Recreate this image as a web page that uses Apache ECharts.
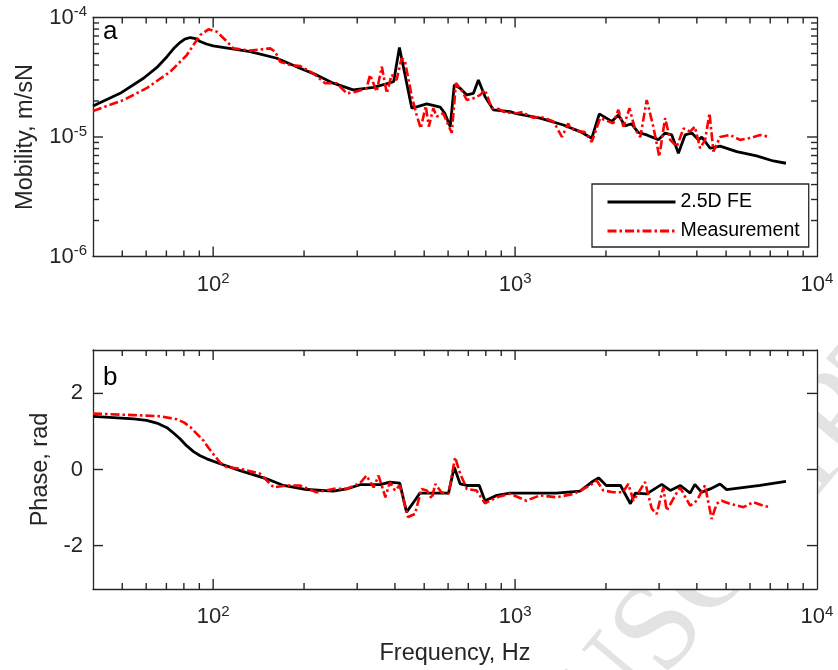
<!DOCTYPE html>
<html>
<head>
<meta charset="utf-8">
<script src="https://cdn.jsdelivr.net/npm/echarts@6/dist/echarts.min.js"></script>
<style>
  html, body { margin: 0; padding: 0; background: #fff; }
  #chart { width: 838px; height: 670px; }
</style>
</head>
<body>
<div id="chart"></div>
<script>
// ---- Mobility, 2.5D FE model ----
const feMobFreq = [40, 49.2, 58.8, 65, 70.3, 74, 77.8, 80.5, 84, 87.5, 90.6, 95, 100, 132.6, 162.5, 194, 220, 250, 291, 340, 396, 414, 455, 472, 510, 565, 585, 610, 629, 658, 692, 728, 756, 795, 847, 962, 1000, 1210, 1446, 1642, 1795, 1901, 2090, 2198, 2312, 2433, 2560, 2729, 2983, 3140, 3304, 3475, 3657, 3849, 4049, 4153, 4426, 4775, 5420, 6310, 7165, 7890];
const feMob = [1.82e-5, 2.32e-5, 3.1e-5, 3.8e-5, 4.7e-5, 5.5e-5, 6.2e-5, 6.6e-5, 6.8e-5, 6.65e-5, 6.3e-5, 6.0e-5, 5.78e-5, 5.18e-5, 4.56e-5, 3.76e-5, 3.31e-5, 2.82e-5, 2.48e-5, 2.6e-5, 2.9e-5, 5.6e-5, 1.74e-5, 1.79e-5, 1.89e-5, 1.78e-5, 1.58e-5, 1.22e-5, 2.73e-5, 2.56e-5, 2.25e-5, 2.32e-5, 3.0e-5, 2.18e-5, 1.69e-5, 1.63e-5, 1.58e-5, 1.44e-5, 1.26e-5, 1.11e-5, 9.77e-6, 1.56e-5, 1.35e-5, 1.53e-5, 1.24e-5, 1.29e-5, 1.09e-5, 1.04e-5, 9.5e-6, 1.08e-5, 1.04e-5, 7.3e-6, 1.04e-5, 1.08e-5, 9.46e-6, 1.0e-5, 8.05e-6, 8.4e-6, 7.55e-6, 6.95e-6, 6.3e-6, 6.03e-6];

// ---- Mobility, measurement ----
const measMobFreq = [40, 50.5, 60.2, 72.1, 81.8, 86.5, 90.6, 96.5, 102.9, 107, 111, 116.7, 132.6, 154.5, 160.5, 166.6, 179.8, 194, 214.5, 234.8, 256.6, 277, 299, 322, 331, 348, 362, 376, 390, 405, 421, 431, 455, 472, 487, 506, 518, 536, 550, 578, 617, 637, 664, 692, 728, 767, 795, 837, 880, 915, 950, 1013, 1060, 1110, 1150, 1210, 1270, 1340, 1430, 1500, 1520, 1567, 1620, 1700, 1795, 1915, 2115, 2198, 2285, 2393, 2500, 2600, 2729, 2870, 3004, 3140, 3265, 3434, 3612, 3800, 3940, 4100, 4260, 4405, 4540, 4775, 5150, 5560, 6000, 6480, 6990];
const measMob = [1.65e-5, 2.04e-5, 2.56e-5, 3.52e-5, 4.85e-5, 6.0e-5, 7.14e-5, 7.96e-5, 7.6e-5, 6.9e-5, 6.3e-5, 5.52e-5, 5.28e-5, 5.52e-5, 5.18e-5, 4.27e-5, 4.0e-5, 3.93e-5, 3.41e-5, 2.82e-5, 2.82e-5, 2.32e-5, 2.4e-5, 2.56e-5, 3.31e-5, 2.4e-5, 3.88e-5, 2.32e-5, 3.31e-5, 3.0e-5, 4.56e-5, 4.4e-5, 2.18e-5, 1.53e-5, 1.18e-5, 1.82e-5, 1.22e-5, 1.74e-5, 1.48e-5, 1.58e-5, 1.08e-5, 2.82e-5, 2.48e-5, 2.04e-5, 2.11e-5, 2.25e-5, 2.48e-5, 1.74e-5, 1.72e-5, 1.63e-5, 1.6e-5, 1.58e-5, 1.62e-5, 1.5e-5, 1.45e-5, 1.48e-5, 1.42e-5, 1.35e-5, 1.0e-5, 1.3e-5, 1.2e-5, 1.15e-5, 1.12e-5, 1.1e-5, 9.1e-6, 1.44e-5, 1.3e-5, 1.69e-5, 1.22e-5, 1.74e-5, 1.15e-5, 1.0e-5, 2.04e-5, 1.22e-5, 6.85e-6, 1.44e-5, 9.46e-6, 8.3e-6, 1.18e-5, 1.11e-5, 1.22e-5, 8.05e-6, 9.46e-6, 1.58e-5, 7.55e-6, 1.0e-5, 1.04e-5, 9.46e-6, 9.8e-6, 1.04e-5, 1.0e-5];

// ---- Phase, 2.5D FE model ----
const fePhaseFreq = [40, 54.5, 60.2, 65.1, 70.3, 73.9, 77.8, 81.8, 86.1, 90.6, 95.3, 105.5, 122.9, 150.4, 170.9, 204, 250, 277, 306.6, 357, 385, 415, 437, 470, 484, 535, 602, 629, 658, 692, 761, 795, 870, 962, 1150, 1372, 1642, 1795, 1890, 2005, 2235, 2410, 2500, 2729, 3060, 3265, 3530, 3800, 3940, 4150, 4430, 4775, 5020, 6480, 7890];
const fePhase = [1.395, 1.33, 1.29, 1.22, 1.10, 0.96, 0.80, 0.62, 0.47, 0.36, 0.28, 0.15, -0.03, -0.245, -0.42, -0.526, -0.57, -0.51, -0.40, -0.40, -0.33, -0.36, -1.12, -0.77, -0.62, -0.62, -0.62, 0.06, -0.38, -0.42, -0.42, -0.82, -0.68, -0.62, -0.62, -0.62, -0.57, -0.33, -0.22, -0.42, -0.42, -0.90, -0.62, -0.64, -0.39, -0.55, -0.42, -0.62, -0.39, -0.60, -0.51, -0.38, -0.53, -0.42, -0.31];

// ---- Phase, measurement ----
const measPhaseFreq = [40, 54.5, 66.7, 75.8, 80, 83.9, 88, 92.9, 96.5, 100, 105.5, 111, 122.9, 143, 158.6, 175.5, 194, 220, 250, 277, 306.6, 322, 340, 353, 372, 385, 400, 415, 442, 466, 490, 510, 530, 544, 570, 602, 633, 658, 692, 745, 795, 870, 962, 1090, 1210, 1372, 1567, 1770, 1864, 1958, 2116, 2275, 2371, 2466, 2695, 2836, 2944, 3097, 3177, 3342, 3516, 3800, 3997, 4256, 4479, 4652, 4834, 5150, 5703, 6155, 6640, 6990];
const measPhase = [1.47, 1.43, 1.40, 1.32, 1.24, 1.12, 0.95, 0.76, 0.57, 0.41, 0.18, 0.06, 0.02, -0.11, -0.47, -0.42, -0.42, -0.60, -0.51, -0.51, -0.36, -0.16, -0.47, -0.16, -0.73, -0.33, -0.55, -0.42, -1.25, -1.17, -0.51, -0.55, -0.77, -0.38, -0.60, -0.64, 0.32, -0.11, -0.51, -0.55, -0.89, -0.73, -0.64, -0.82, -0.68, -0.73, -0.64, -0.42, -0.29, -0.55, -0.60, -0.60, -0.38, -0.82, -0.33, -1.03, -1.17, -0.47, -1.08, -0.77, -0.47, -0.95, -0.82, -0.42, -1.30, -0.90, -0.82, -0.90, -0.99, -0.86, -0.95, -0.99];

// ---- Axis tick positions ----
const freqMajor = [100, 1000, 10000];
const freqMinor = [50, 60, 70, 80, 90, 200, 300, 400, 500, 600, 700, 800, 900, 2000, 3000, 4000, 5000, 6000, 7000, 8000, 9000];
const mobMajor = [1e-6, 1e-5, 1e-4];
const mobMinor = [2e-6, 3e-6, 4e-6, 5e-6, 6e-6, 7e-6, 8e-6, 9e-6, 2e-5, 3e-5, 4e-5, 5e-5, 6e-5, 7e-5, 8e-5, 9e-5];
const phaseMajor = [-2, 0, 2];

const seriesNames = ['2.5D FE', 'Measurement'];
const panelLetters = ['a', 'b'];
const axisTitles = { mobility: 'Mobility, m/sN', phase: 'Phase, rad', freq: 'Frequency, Hz' };

const FONT = '"Liberation Sans", Arial, Helvetica, sans-serif';
const INK = '#262626';
const MAJOR_LEN = 10, MINOR_LEN = 6;

const zip = (xs, ys) => xs.map((x, i) => [x, ys[i]]);

const powLabel = v => '{b|10}{s|' + Math.round(Math.log10(v)) + '}';
const powRich = {
  b: { fontSize: 22, fontFamily: FONT, color: INK, lineHeight: 26 },
  s: { fontSize: 15, fontFamily: FONT, color: INK, verticalAlign: 'top', lineHeight: 14 }
};

const gridBoxes = [
  { left: 93, top: 17.5, width: 724, height: 239 },
  { left: 93, top: 350, width: 724, height: 239 }
];
const grids = gridBoxes.map(g => Object.assign({}, g, { show: false, containLabel: false }));

const lineSpec = { show: true, onZero: false, lineStyle: { color: INK, width: 1.3 } };
const titleStyle = { fontSize: 23.5, fontFamily: FONT, color: INK };

function freqAxis(gridIndex, position, withLabels, name) {
  return {
    type: 'log', logBase: 10, min: 40, max: 10000, gridIndex, position,
    name: name || '', nameLocation: 'middle', nameGap: 53, nameTextStyle: titleStyle,
    axisLine: lineSpec,
    axisTick: { show: false },
    axisLabel: withLabels
      ? { show: true, customValues: freqMajor, formatter: powLabel, rich: powRich, margin: 15 }
      : { show: false },
    splitLine: { show: false }, minorTick: { show: false }
  };
}

function mobAxis(gridIndex, position, withLabels, name) {
  return {
    type: 'log', logBase: 10, min: 1e-6, max: 1e-4, gridIndex, position,
    name: name || '', nameLocation: 'middle', nameGap: 55, nameRotate: 90, nameTextStyle: titleStyle,
    axisLine: lineSpec,
    axisTick: { show: false },
    axisLabel: withLabels
      ? { show: true, customValues: mobMajor, formatter: powLabel, rich: powRich, margin: 6 }
      : { show: false },
    splitLine: { show: false }, minorTick: { show: false }
  };
}

function phaseAxis(gridIndex, position, withLabels, name) {
  return {
    type: 'value', min: -Math.PI, max: Math.PI, gridIndex, position,
    name: name || '', nameLocation: 'middle', nameGap: 32, nameRotate: 90, nameTextStyle: titleStyle,
    axisLine: lineSpec,
    axisTick: { show: false },
    axisLabel: withLabels
      ? { show: true, customValues: phaseMajor, fontSize: 22, fontFamily: FONT, color: INK, margin: 10 }
      : { show: false },
    splitLine: { show: false }
  };
}

const xAxes = [
  freqAxis(0, 'bottom', true),
  freqAxis(0, 'top', false),
  freqAxis(1, 'bottom', true, axisTitles.freq),
  freqAxis(1, 'top', false)
];
const yAxes = [
  mobAxis(0, 'left', true, axisTitles.mobility),
  mobAxis(0, 'right', false),
  phaseAxis(1, 'left', true, axisTitles.phase),
  phaseAxis(1, 'right', false)
];

const feStyle = { color: '#000000', width: 2.8, type: 'solid' };
const measStyle = { color: '#ff0000', width: 2.6, type: [9, 3, 2.5, 3] };

const series = [
  { name: seriesNames[0], type: 'line', xAxisIndex: 0, yAxisIndex: 0, data: zip(feMobFreq, feMob), showSymbol: false, symbol: 'none', lineStyle: feStyle, itemStyle: { color: '#000' }, z: 3 },
  { name: seriesNames[1], type: 'line', xAxisIndex: 0, yAxisIndex: 0, data: zip(measMobFreq, measMob), showSymbol: false, symbol: 'none', lineStyle: measStyle, itemStyle: { color: '#ff0000' }, z: 4 },
  { name: seriesNames[0], type: 'line', xAxisIndex: 2, yAxisIndex: 2, data: zip(fePhaseFreq, fePhase), showSymbol: false, symbol: 'none', lineStyle: feStyle, itemStyle: { color: '#000' }, z: 3 },
  { name: seriesNames[1], type: 'line', xAxisIndex: 2, yAxisIndex: 2, data: zip(measPhaseFreq, measPhase), showSymbol: false, symbol: 'none', lineStyle: measStyle, itemStyle: { color: '#ff0000' }, z: 4 }
];

// Faint diagonal page stamp, with white plot areas laid over it
const stamp = {
  type: 'text', z: -100, silent: true,
  x: -42, y: 1469, rotation: 50 * Math.PI / 180,
  style: {
    text: 'ACCEPTED MANUSCRIPT',
    font: '125px "Liberation Serif", "Times New Roman", serif',
    fill: '#e3e3e3', textAlign: 'left', textVerticalAlign: 'middle'
  }
};
const plotFills = gridBoxes.map(b => ({
  type: 'rect', z: -90, silent: true,
  shape: { x: b.left, y: b.top, width: b.width, height: b.height },
  style: { fill: '#ffffff' }
}));

const letters = [
  { type: 'text', z: 20, x: 103, y: 31.7, style: { text: panelLetters[0], font: '26px ' + FONT, fill: '#000', textAlign: 'left', textVerticalAlign: 'middle' } },
  { type: 'text', z: 20, x: 103, y: 378, style: { text: panelLetters[1], font: '26px ' + FONT, fill: '#000', textAlign: 'left', textVerticalAlign: 'middle' } }
];

const option = {
  backgroundColor: '#ffffff',
  animation: false,
  grid: grids,
  xAxis: xAxes,
  yAxis: yAxes,
  legend: {
    data: seriesNames,
    orient: 'vertical',
    left: 592, top: 184,
    itemWidth: 68, itemHeight: 20, itemGap: 9,
    padding: [8, 9, 6, 14],
    backgroundColor: '#ffffff',
    borderColor: INK, borderWidth: 1.3,
    itemStyle: { opacity: 0 },
    lineStyle: { width: 3 },
    textStyle: { fontSize: 19.5, fontFamily: FONT, color: '#000' },
    selectedMode: false,
    z: 10
  },
  graphic: { elements: [stamp].concat(plotFills, letters) },
  series
};

const chart = echarts.init(document.getElementById('chart'), null, { renderer: 'canvas' });
chart.setOption(option);

// Inward tick marks on all four sides of each panel, positioned through the panel's own scales
function panelTicks(gridIndex, xMajor, xMinor, yMajor, yMinor) {
  const box = gridBoxes[gridIndex];
  const x0 = box.left, x1 = box.left + box.width;
  const y0 = box.top, y1 = box.top + box.height;
  const xFinder = { xAxisIndex: gridIndex * 2 };
  const yFinder = { yAxisIndex: gridIndex * 2 };
  const out = [];
  const seg = (ax, ay, bx, by) => ({
    type: 'line', z: 30, silent: true,
    shape: { x1: ax, y1: ay, x2: bx, y2: by },
    style: { stroke: INK, lineWidth: 1.4 }
  });
  const addX = (v, len) => {
    const px = chart.convertToPixel(xFinder, v);
    if (!(px > x0 + 0.5 && px < x1 - 0.5)) return;
    out.push(seg(px, y1, px, y1 - len), seg(px, y0, px, y0 + len));
  };
  const addY = (v, len) => {
    const py = chart.convertToPixel(yFinder, v);
    if (!(py > y0 + 0.5 && py < y1 - 0.5)) return;
    out.push(seg(x0, py, x0 + len, py), seg(x1, py, x1 - len, py));
  };
  xMajor.forEach(v => addX(v, MAJOR_LEN));
  xMinor.forEach(v => addX(v, MINOR_LEN));
  yMajor.forEach(v => addY(v, MAJOR_LEN));
  yMinor.forEach(v => addY(v, MINOR_LEN));
  return out;
}

const tickEls = panelTicks(0, freqMajor, freqMinor, mobMajor, mobMinor)
  .concat(panelTicks(1, freqMajor, freqMinor, phaseMajor, []));
chart.setOption({ graphic: { elements: [stamp].concat(plotFills, letters, tickEls) } });
</script>
</body>
</html>
